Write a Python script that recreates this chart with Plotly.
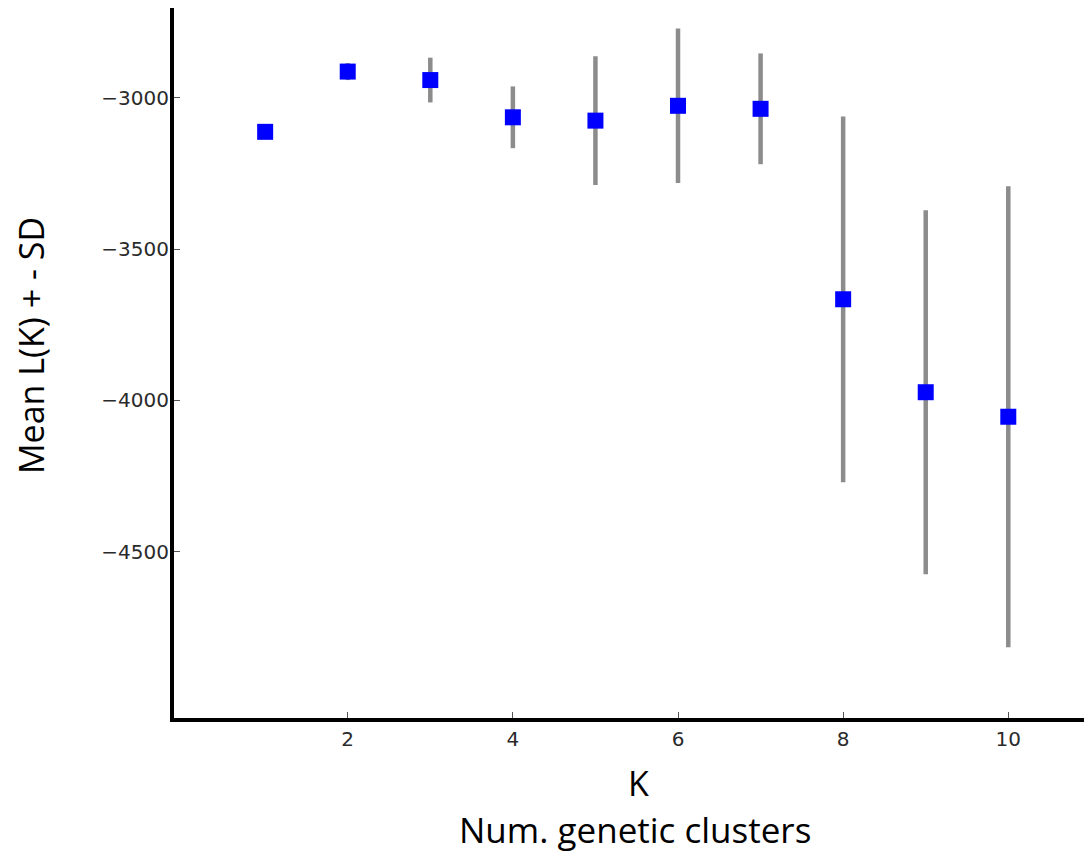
import plotly.graph_objects as go

# Data
k_values = [1, 2, 3, 4, 5, 6, 7, 8, 9, 10]
mean_lk = [-3113, -2914, -2942, -3065, -3076, -3027, -3037, -3666, -3973, -4054]
sd_lk = [0, 28, 74, 102, 213, 255, 183, 604, 601, 761]

x_ticks = [2, 4, 6, 8, 10]
y_ticks = [-3000, -3500, -4000, -4500]

fig = go.Figure()
fig.add_trace(go.Scatter(
    x=k_values, y=mean_lk,
    mode="markers",
    marker=dict(symbol="square", size=16, color="#0000FF", line=dict(width=0)),
    error_y=dict(type="data", array=sd_lk, symmetric=True, color="#8c8c8c",
                 thickness=4.5, width=0),
    hoverinfo="x+y",
    showlegend=False,
))

# page has an 8px body margin: figure coords = reference coords - 8
OFF = 8
W, H = 1092 - OFF, 854 - OFF
L, T = 174 - OFF, 8 - OFF
R = W - (1085 - OFF)
B = H - (718 - OFF)

def px(xr):
    return (xr - OFF - L) / (W - L - R)

def py(yr):
    return (H - B - (yr - OFF)) / (H - B - T)

fig.update_layout(
    width=W, height=H,
    margin=dict(l=L, r=R, t=T, b=B, pad=0),
    plot_bgcolor="white", paper_bgcolor="white",
    xaxis=dict(
        range=[-0.104, 10.929], tickmode="array", tickvals=x_ticks,
        ticktext=[str(v) for v in x_ticks],
        showgrid=False, zeroline=False,
        showline=True, linecolor="black", linewidth=4,
        ticks="inside", ticklen=6, tickwidth=1, tickcolor="#555",
        tickfont=dict(family="DejaVu Sans", size=20, color="#2a2a2a"),
    ),
    yaxis=dict(
        range=[-5049, -2704], tickmode="array", tickvals=y_ticks,
        ticktext=["\u2212" + str(abs(v)) for v in y_ticks],
        showgrid=False, zeroline=False,
        showline=True, linecolor="black", linewidth=4,
        ticks="inside", ticklen=6, tickwidth=1, tickcolor="#555",
        ticklabelstandoff=-3,
        tickfont=dict(family="DejaVu Sans", size=20, color="#2a2a2a"),
    ),
    annotations=[
        dict(text="K", xref="paper", yref="paper",
             x=px(638), y=py(783),
             showarrow=False, xanchor="center", yanchor="middle",
             font=dict(family="Open Sans", size=34, color="black")),
        dict(text="Num. genetic clusters", xref="paper", yref="paper",
             x=px(635), y=py(829),
             showarrow=False, xanchor="center", yanchor="middle",
             font=dict(family="Open Sans", size=35, color="black")),
        dict(text="Mean L(K) + - SD", xref="paper", yref="paper",
             x=px(31), y=py(346),
             textangle=-90, showarrow=False, xanchor="center", yanchor="middle",
             borderpad=0,
             font=dict(family="Open Sans", size=34, color="black")),
    ],
)

fig.write_html("out.html", config={"displayModeBar": False})
